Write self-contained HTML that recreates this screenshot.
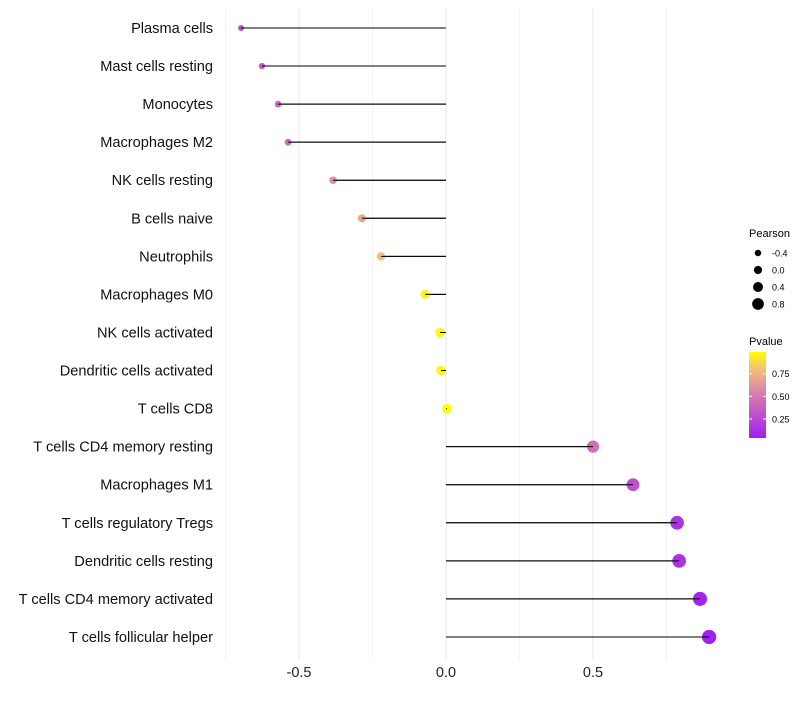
<!DOCTYPE html>
<html><head><meta charset="utf-8"><style>
body{margin:0;background:#fff;font-family:"Liberation Sans",sans-serif}
svg text{font-family:"Liberation Sans",sans-serif}
</style></head><body>
<svg id="c" width="800" height="700">
<defs><linearGradient id="pg" x1="0" y1="1" x2="0" y2="0">
<stop offset="0" stop-color="#A020F0"/><stop offset="0.5" stop-color="#D87AB0"/><stop offset="0.8" stop-color="#F2C07A"/><stop offset="1" stop-color="#FFFF00"/></linearGradient></defs>
</svg>
<script>
const categories=["Plasma cells","Mast cells resting","Monocytes","Macrophages M2","NK cells resting","B cells naive","Neutrophils","Macrophages M0","NK cells activated","Dendritic cells activated","T cells CD8","T cells CD4 memory resting","Macrophages M1","T cells regulatory  Tregs ","Dendritic cells resting","T cells CD4 memory activated","T cells follicular helper"];
const pearson=[-0.697,-0.626,-0.571,-0.537,-0.384,-0.286,-0.221,-0.071,-0.02,-0.017,0.003,0.5,0.636,0.786,0.793,0.864,0.895];
const pvalues=[0.3,0.35,0.4,0.45,0.6,0.7,0.8,0.95,0.97,0.97,0.99,0.45,0.3,0.15,0.15,0.07,0.05];
const xTicks=[-0.5,0,0.5];
const xTickLabels=["-0.5","0.0","0.5"];
const sizeLegend=[-0.4,0.0,0.4,0.8];
const pLegend=[0.25,0.5,0.75];
const NS="http://www.w3.org/2000/svg",svg=document.getElementById('c');
const X=v=>446+v*294, Y=i=>28+i*38.06, R=v=>Math.max(1.6,4.8+2.6*v);
const stops=[[0,[160,32,240]],[0.5,[216,122,176]],[0.8,[242,192,122]],[1,[255,255,0]]];
function col(p){p=(p-0.05)/0.94;p=Math.max(0,Math.min(1,p));for(let k=1;k<stops.length;k++){if(p<=stops[k][0]){const a=stops[k-1],b=stops[k],t=(p-a[0])/(b[0]-a[0]);return 'rgb('+a[1].map((c,j)=>Math.round(c+(b[1][j]-c)*t)).join(',')+')';}}return 'rgb(255,255,0)';}
function mk(t,a,p){const e=document.createElementNS(NS,t);for(const k in a)e.setAttribute(k,a[k]);(p||svg).appendChild(e);return e;}
[-0.75,-0.5,-0.25,0,0.25,0.5,0.75].forEach(v=>{const g=mk('line',{x1:X(v),x2:X(v),y1:8,y2:660,stroke:'#ebebeb','stroke-width':Math.abs(v*4)%2==1?0.6:1.1});

});
xTicks.forEach((v,i)=>{const t=mk('text',{x:X(v),y:677,'text-anchor':'middle','font-size':14.5,fill:'#222'});t.textContent=xTickLabels[i];

});
categories.forEach((c,i)=>{
const t=mk('text',{x:213,y:Y(i)+5,'text-anchor':'end','font-size':14.6,fill:'#111'});t.textContent=c;


const l=mk('line',{x1:X(0),x2:X(pearson[i]),y1:Y(i),y2:Y(i),stroke:'#000','stroke-width':1});


const d=mk('circle',{cx:X(pearson[i]),cy:Y(i),r:R(pearson[i]),fill:col(pvalues[i])});


mk('line',{x1:X(0),x2:X(pearson[i]),y1:Y(i),y2:Y(i),stroke:'#000','stroke-width':1});
});
let t=mk('text',{x:749,y:237,'font-size':11});t.textContent='Pearson';


sizeLegend.forEach((v,i)=>{const y=253+i*17;const c=mk('circle',{cx:758,cy:y,r:R(v)*0.85,fill:'#000'});


const s=mk('text',{x:772,y:y+3.5,'font-size':9});s.textContent=v.toFixed(1);

});
t=mk('text',{x:749,y:345,'font-size':11});t.textContent='Pvalue';


const bar=mk('rect',{x:749,y:352,width:17,height:86,fill:'url(#pg)'});


pLegend.forEach(v=>{const y=437-(v-0.05)/0.94*85;
mk('line',{x1:749,x2:752,y1:y,y2:y,stroke:'#fff'});mk('line',{x1:763,x2:766,y1:y,y2:y,stroke:'#fff'});
const s=mk('text',{x:772,y:y+3.5,'font-size':9});s.textContent=v.toFixed(2);

});
</script>
</body></html>
